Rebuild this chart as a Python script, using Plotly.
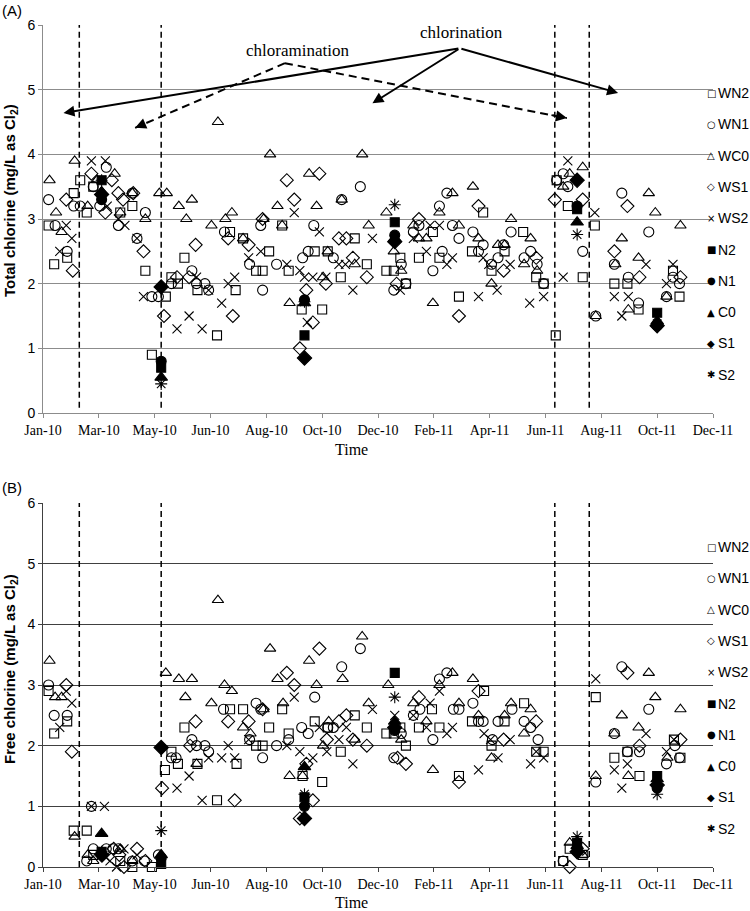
import pandas as pd
import plotly.graph_objects as go

# ============================================================
# Data: (day since 1 Jan 2010, chlorine mg/L as Cl2)
# ============================================================
START = pd.Timestamp("2010-01-01")

# ---- (A) total chlorine, weekly sites ----
total_wn2 = [(6, 2.9), (12, 2.3), (26, 2.4), (33, 3.4), (40, 3.6), (47, 3.1), (54, 3.5), (83, 3.1),
             (96, 3.2), (110, 2.2), (117, 0.9), (132, 1.8), (138, 2.1), (145, 2.0), (152, 2.4), (166, 1.9),
             (187, 1.2), (201, 2.8), (207, 1.9), (215, 2.7), (229, 2.2), (236, 2.2), (243, 2.5), (257, 2.9),
             (264, 2.2), (278, 1.6), (292, 2.5), (300, 1.6), (306, 2.5), (320, 2.1), (335, 2.7), (348, 2.3),
             (369, 2.2), (377, 2.2), (384, 2.4), (390, 2.0), (404, 2.4), (419, 2.8), (426, 2.4), (447, 1.8),
             (461, 2.5), (473, 3.1), (482, 2.2), (496, 2.5), (516, 2.8), (530, 2.1), (538, 2.0), (551, 1.2),
             (552, 3.6), (564, 3.2), (580, 2.1), (593, 2.9), (614, 2.0), (628, 2.0), (640, 1.6), (677, 2.2),
             (684, 1.8)]
total_wn1 = [(6, 3.3), (13, 2.9), (26, 2.5), (33, 3.2), (40, 3.2), (54, 3.5), (61, 3.2), (68, 3.8),
             (81, 2.9), (96, 3.4), (101, 2.7), (110, 3.1), (117, 1.8), (124, 1.8), (138, 2.0), (160, 2.2),
             (165, 2.0), (174, 2.0), (178, 1.9), (195, 2.8), (222, 2.3), (234, 2.9), (236, 1.9), (251, 2.3),
             (279, 2.4), (285, 2.5), (291, 2.9), (312, 2.4), (321, 3.3), (341, 3.5), (377, 1.9), (385, 2.3),
             (390, 2.0), (398, 2.8), (404, 2.9), (419, 2.2), (426, 3.2), (429, 2.5), (434, 3.4), (440, 2.9),
             (447, 2.7), (462, 2.8), (468, 2.5), (473, 2.6), (482, 2.3), (489, 2.4), (495, 2.6), (503, 2.8),
             (517, 2.4), (524, 2.5), (531, 2.3), (538, 2.0), (552, 3.6), (559, 3.7), (564, 3.5), (580, 2.5),
             (594, 1.5), (614, 2.3), (622, 3.4), (629, 2.1), (640, 1.7), (651, 2.8), (670, 1.8), (677, 2.1),
             (684, 2.0)]
total_wc0 = [(7, 3.6), (14, 3.1), (20, 2.8), (34, 3.9), (48, 3.2), (58, 3.6), (77, 3.7), (83, 3.1),
             (96, 3.4), (110, 3.0), (125, 3.4), (133, 3.4), (146, 3.2), (154, 3.0), (160, 3.3), (181, 2.9),
             (188, 4.5), (196, 3.0), (203, 3.1), (215, 2.7), (237, 3.0), (244, 4.0), (252, 3.2), (257, 2.9),
             (265, 1.7), (286, 3.7), (294, 3.2), (301, 2.1), (306, 2.5), (321, 3.3), (335, 2.3), (343, 4.0),
             (350, 2.9), (369, 3.1), (377, 2.5), (385, 2.2), (398, 2.9), (404, 2.7), (412, 2.7), (419, 1.7),
             (426, 3.1), (440, 3.4), (447, 2.9), (462, 3.5), (468, 2.7), (482, 2.0), (489, 2.6), (496, 2.6),
             (503, 3.0), (517, 2.3), (524, 2.7), (531, 2.2), (559, 3.5), (566, 3.7), (580, 3.8), (594, 1.5),
             (615, 2.3), (622, 2.7), (629, 1.6), (640, 2.4), (651, 3.4), (658, 3.1), (670, 1.8), (685, 2.9)]
total_ws1 = [(25, 3.3), (32, 2.2), (52, 3.7), (67, 3.1), (74, 3.6), (81, 3.4), (86, 3.3), (97, 3.4),
             (108, 2.5), (130, 1.5), (144, 2.1), (157, 2.1), (164, 2.6), (199, 2.7), (204, 1.5), (221, 2.6),
             (236, 3.0), (262, 3.6), (270, 3.3), (276, 1.0), (283, 1.9), (290, 1.4), (297, 3.7), (304, 2.0),
             (318, 2.7), (326, 2.7), (333, 2.4), (348, 2.1), (380, 2.0), (404, 3.0), (447, 1.5), (468, 3.2),
             (495, 2.2), (530, 2.4), (550, 3.3), (580, 3.3), (614, 2.5), (628, 3.2), (641, 2.1), (685, 2.1)]
total_ws2 = [(18, 2.5), (25, 2.9), (31, 2.7), (52, 3.9), (67, 3.9), (69, 3.2), (81, 3.0), (88, 2.9),
             (101, 2.7), (108, 1.8), (144, 1.3), (157, 1.5), (165, 2.1), (171, 1.3), (178, 1.9), (192, 1.7),
             (199, 2.0), (206, 2.1), (221, 2.4), (234, 2.5), (262, 2.3), (270, 3.1), (276, 2.2), (281, 2.1),
             (284, 1.4), (290, 2.1), (297, 2.8), (304, 2.1), (318, 2.3), (325, 2.3), (333, 1.9), (354, 2.7),
             (384, 1.9), (398, 2.7), (412, 2.5), (416, 2.9), (426, 2.9), (434, 2.3), (440, 2.4), (468, 1.8),
             (473, 2.4), (479, 2.3), (488, 1.9), (502, 2.3), (523, 1.7), (538, 1.8), (559, 2.1), (564, 3.9),
             (593, 3.1), (614, 1.8), (622, 1.5), (629, 1.8), (648, 2.3), (670, 2.0), (677, 2.3)]

# ---- (B) free chlorine, weekly sites ----
free_wn2 = [(6, 2.9), (12, 2.2), (26, 2.4), (33, 0.6), (47, 0.6), (54, 0.2), (83, 0.1), (96, 0.0),
            (117, 0.0), (131, 1.6), (138, 1.9), (145, 1.7), (152, 2.3), (166, 1.7), (187, 1.1), (201, 2.6),
            (208, 1.7), (215, 2.6), (229, 2.0), (236, 2.0), (243, 2.3), (257, 2.6), (264, 2.2), (279, 1.5),
            (292, 2.4), (300, 1.4), (306, 2.3), (320, 1.9), (335, 2.5), (348, 2.3), (369, 2.2), (377, 2.2),
            (384, 2.3), (390, 2.0), (404, 2.3), (418, 2.6), (426, 2.3), (447, 1.5), (461, 2.4), (474, 2.9),
            (482, 2.0), (496, 2.4), (517, 2.7), (530, 1.9), (538, 1.9), (559, 0.1), (566, 0.3), (580, 0.2),
            (594, 2.8), (614, 1.8), (628, 1.9), (641, 1.5), (678, 2.1), (685, 1.8)]
free_wn1 = [(6, 3.0), (12, 2.5), (26, 2.5), (47, 0.1), (52, 1.0), (54, 0.3), (68, 0.3), (75, 0.3),
            (81, 0.3), (96, 0.1), (109, 0.1), (124, 0.2), (138, 1.8), (143, 1.8), (160, 2.1), (165, 2.0),
            (174, 2.0), (178, 1.9), (194, 2.6), (222, 2.1), (229, 2.7), (234, 2.6), (236, 1.8), (251, 2.0),
            (264, 2.1), (278, 2.3), (285, 2.2), (292, 2.8), (306, 2.3), (312, 2.3), (321, 3.3), (341, 3.6),
            (377, 1.8), (385, 2.2), (398, 2.5), (405, 2.6), (419, 2.1), (426, 3.1), (434, 3.2), (441, 2.6),
            (447, 2.6), (462, 2.7), (468, 2.4), (473, 2.4), (483, 2.1), (489, 2.4), (504, 2.6), (517, 2.4),
            (524, 2.3), (532, 2.1), (559, 0.1), (594, 1.4), (614, 2.2), (622, 3.3), (628, 1.9), (641, 1.9),
            (651, 2.6), (670, 1.7), (679, 2.0), (684, 1.8)]
free_wc0 = [(7, 3.4), (13, 2.8), (20, 2.8), (34, 0.5), (48, 0.2), (54, 0.1), (83, 0.3), (96, 0.1),
            (132, 3.2), (146, 3.1), (153, 2.8), (160, 3.1), (165, 1.7), (181, 2.7), (188, 4.4), (195, 3.0),
            (203, 2.9), (215, 2.3), (223, 2.2), (237, 2.6), (244, 3.6), (252, 3.1), (258, 2.7), (265, 1.5),
            (279, 1.5), (286, 3.4), (294, 3.0), (301, 2.0), (307, 2.4), (322, 3.1), (335, 2.1), (343, 3.8),
            (350, 2.7), (371, 3.0), (385, 2.1), (398, 2.7), (412, 2.4), (419, 1.6), (426, 3.0), (440, 3.2),
            (447, 2.7), (462, 3.1), (468, 2.5), (482, 1.8), (496, 2.5), (503, 2.7), (517, 2.2), (524, 2.6),
            (566, 0.4), (580, 0.2), (594, 1.5), (614, 2.2), (622, 2.5), (629, 1.5), (640, 2.3), (651, 3.2),
            (658, 2.8), (671, 1.8), (685, 2.6)]
free_ws1 = [(25, 3.0), (31, 1.9), (76, 0.3), (82, 0.2), (87, 0.0), (101, 0.3), (110, 0.1), (128, 1.3),
            (158, 2.0), (164, 2.4), (199, 2.4), (206, 1.1), (221, 2.4), (236, 2.6), (262, 3.2), (270, 3.0),
            (276, 0.8), (283, 1.7), (290, 1.1), (297, 3.6), (305, 2.1), (318, 2.4), (326, 2.5), (333, 2.1),
            (348, 2.0), (381, 1.8), (390, 1.7), (404, 2.8), (447, 1.4), (468, 2.9), (495, 2.1), (530, 2.4),
            (566, 0.0), (580, 0.3), (628, 3.2), (641, 2.0), (685, 2.1)]
free_ws2 = [(18, 2.3), (25, 2.9), (31, 2.7), (52, 1.0), (66, 1.0), (68, 0.15), (72, 0.1), (79, 0.0),
            (87, 0.3), (101, 0.2), (144, 1.3), (157, 1.5), (171, 1.1), (178, 1.8), (192, 1.8), (199, 2.0),
            (206, 1.8), (221, 2.1), (262, 2.0), (270, 2.8), (276, 1.9), (290, 1.8), (297, 2.3), (305, 1.9),
            (318, 2.1), (326, 2.3), (333, 1.7), (354, 2.6), (378, 2.5), (398, 2.5), (412, 2.3), (416, 2.7),
            (426, 2.9), (434, 2.2), (440, 2.3), (468, 1.6), (474, 2.2), (481, 2.1), (489, 1.8), (502, 2.1),
            (524, 1.7), (530, 1.9), (538, 1.8), (594, 3.1), (614, 1.6), (622, 1.3), (628, 1.7), (648, 2.2),
            (670, 1.9), (678, 2.1)]

# ---- network sites, sampled at six campaigns ----
campaign_day = [63, 127, 281, 378, 574, 660]
total_n2 = [3.6, 0.7, 1.2, 2.95, 3.15, 1.55]
total_n1 = [3.3, 0.8, 1.75, 2.75, 3.2, 1.35]
total_c0 = [3.42, 0.55, 1.7, 2.7, 2.95, 1.42]
total_s1 = [3.38, 1.95, 0.85, 2.65, 3.6, 1.35]
total_s2 = [3.6, 0.45, 1.72, 3.22, 2.76, 1.38]
free_n2 = [0.25, 0.05, 1.15, 3.2, 0.4, 1.5]
free_n1 = [0.2, 0.15, 1.0, 2.25, 0.3, 1.3]
free_c0 = [0.55, 0.2, 1.65, 2.4, 0.35, 1.45]
free_s1 = [0.2, 1.97, 0.8, 2.3, 0.25, 1.35]
free_s2 = [0.25, 0.6, 1.2, 2.8, 0.5, 1.2]

# disinfectant switch dates (days)
switch_day = [39, 127, 550, 587]

# ============================================================
# Styles
# ============================================================
SERIES = ["WN2", "WN1", "WC0", "WS1", "WS2", "N2", "N1", "C0", "S1", "S2"]
SYMBOL = {"WN2": ("square-open", 9), "WN1": ("circle-open", 10), "WC0": ("triangle-up-open", 10),
          "WS1": ("diamond-open", 10), "WS2": ("x-thin-open", 9), "N2": ("square", 9),
          "N1": ("circle", 10), "C0": ("triangle-up", 11), "S1": ("diamond", 11),
          "S2": ("asterisk-open", 10)}
# key glyphs for the side legend
GLYPH = {"WN2": "□", "WN1": "○", "WC0": "△", "WS1": "◇", "WS2": "×",
         "N2": "■", "N1": "●", "C0": "▲", "S1": "◆", "S2": "✱"}

SERIF = "Liberation Serif"
SANS = "Liberation Sans"


def day_to_date(days):
    return START + pd.to_timedelta(list(days), unit="D")


panels = [
    {"xa": "x", "ya": "y", "key_top": 93, "time_y": 449, "title_y": 201,
     "title": "<b>Total chlorine (mg/L as Cl<sub>2</sub>)</b>",
     "data": {"WN2": total_wn2, "WN1": total_wn1, "WC0": total_wc0, "WS1": total_ws1, "WS2": total_ws2,
              "N2": total_n2, "N1": total_n1, "C0": total_c0, "S1": total_s1, "S2": total_s2}},
    {"xa": "x2", "ya": "y2", "key_top": 547, "time_y": 902, "title_y": 669,
     "title": "<b>Free chlorine (mg/L as Cl<sub>2</sub>)</b>",
     "data": {"WN2": free_wn2, "WN1": free_wn1, "WC0": free_wc0, "WS1": free_ws1, "WS2": free_ws2,
              "N2": free_n2, "N1": free_n1, "C0": free_c0, "S1": free_s1, "S2": free_s2}},
]

fig = go.Figure()

for p in panels:
    for name in SERIES:
        vals = p["data"][name]
        if name.startswith("W"):
            days = [d for d, _ in vals]
            ys = [v for _, v in vals]
        else:
            days, ys = campaign_day, vals
        sym, size = SYMBOL[name]
        fig.add_trace(go.Scatter(
            x=day_to_date(days), y=ys, mode="markers", name=name,
            legendgroup=name, showlegend=False,
            xaxis=p["xa"], yaxis=p["ya"], cliponaxis=False,
            marker=dict(symbol=sym, size=size, color="black",
                        line=dict(color="black", width=1.1)),
        ))

# ============================================================
# Layout (pixel frame: plots span x 43..713, A: y 25..413, B: y 503..867)
# ============================================================
W, H = 750, 911
ML, MR, MT, MB = 43, 37, 25, 44
PH = H - MT - MB

def py_to_paper(py):
    return (H - MB - py) / PH

def px_to_paper(px):
    return (px - ML) / (W - ML - MR)

tickdates = [START + pd.Timedelta(days=60 * k) for k in range(13)]
x_range = [START, START + pd.Timedelta(days=720)]

def xaxis_style(anchor, linecolor):
    return dict(type="date", range=x_range, tickvals=tickdates, tickformat="%b-%y",
                anchor=anchor, showgrid=False, zeroline=False,
                showline=True, linecolor=linecolor, linewidth=1,
                ticks="outside", ticklen=4, tickcolor=linecolor,
                tickfont=dict(family=SERIF, size=14, color="black"))

def yaxis_style(anchor, domain, gridcolor, linecolor):
    return dict(range=[0, 6], dtick=1, domain=domain, anchor=anchor,
                showgrid=True, gridcolor=gridcolor, gridwidth=1, zeroline=False,
                showline=True, linecolor=linecolor, linewidth=1,
                ticks="outside", ticklen=4, tickcolor=linecolor,
                tickfont=dict(family=SANS, size=14, color="black"))

fig.update_layout(
    width=W, height=H,
    margin=dict(l=ML, r=MR, t=MT, b=MB, autoexpand=False),
    paper_bgcolor="white", plot_bgcolor="white",
    xaxis=xaxis_style("y", "#8c8c8c"),
    yaxis=yaxis_style("x", [py_to_paper(413), 1.0], "#8c8c8c", "#8c8c8c"),
    xaxis2=xaxis_style("y2", "#404040"),
    yaxis2=yaxis_style("x2", [0.0, py_to_paper(503)], "#404040", "#404040"),
    showlegend=False,
)

for p in panels:
    # axis titles
    fig.add_annotation(xref="paper", yref="paper", x=px_to_paper(351), y=py_to_paper(p["time_y"]),
                       text="Time", showarrow=False, xanchor="center", yanchor="middle",
                       font=dict(family=SERIF, size=16, color="black"))
    fig.add_annotation(xref="paper", yref="paper", x=px_to_paper(10), y=py_to_paper(p["title_y"]),
                       text=p["title"], textangle=-90, showarrow=False,
                       xanchor="center", yanchor="middle",
                       font=dict(family=SANS, size=15, color="black"))
    # side key
    for i, name in enumerate(SERIES):
        yk = py_to_paper(p["key_top"] + 31.3 * i)
        fig.add_annotation(xref="paper", yref="paper", x=px_to_paper(711), y=yk,
                           xanchor="center", yanchor="middle", showarrow=False, borderpad=0,
                           text=GLYPH[name], font=dict(family="DejaVu Sans", size=10, color="black"))
        fig.add_annotation(xref="paper", yref="paper", x=px_to_paper(717), y=yk,
                           xanchor="left", yanchor="middle", showarrow=False, borderpad=0,
                           text=name, font=dict(family=SANS, size=14, color="black"))

# ============================================================
# Switch lines, arrows, labels
# ============================================================
for xa, ya, y0 in [("x", "y", 0.08), ("x2", "y2", 0.0)]:
    for d in switch_day:
        xd = START + pd.Timedelta(days=d)
        fig.add_shape(type="line", xref=xa, yref=ya, x0=xd, x1=xd, y0=y0, y1=6,
                      line=dict(color="black", width=1.5, dash="6px,4px"))

def at(day):
    return START + pd.Timedelta(days=day)

# chlorination: solid arrows from one apex
apex = (448, 5.64)
for head in [(22, 4.64), (354, 4.79), (618, 4.95)]:
    fig.add_annotation(xref="x", yref="y", axref="x", ayref="y",
                       x=at(head[0]), y=head[1], ax=at(apex[0]), ay=apex[1],
                       text="", showarrow=True, arrowhead=2, arrowsize=1.1,
                       arrowwidth=2, arrowcolor="black")

# chloramination: dashed arrows
apex2 = (260, 5.41)
for head in [(99, 4.41), (563, 4.56)]:
    fig.add_shape(type="line", xref="x", yref="y",
                  x0=at(apex2[0]), y0=apex2[1], x1=at(head[0]), y1=head[1],
                  line=dict(color="black", width=2, dash="8px,5px"))
    tail = (head[0] + 0.06 * (apex2[0] - head[0]), head[1] + 0.06 * (apex2[1] - head[1]))
    fig.add_annotation(xref="x", yref="y", axref="x", ayref="y",
                       x=at(head[0]), y=head[1], ax=at(tail[0]), ay=tail[1],
                       text="", showarrow=True, arrowhead=2, arrowsize=1.1,
                       arrowwidth=2, arrowcolor="black")

fig.add_annotation(xref="x", yref="y", x=at(274), y=5.61, text="chloramination",
                   showarrow=False, font=dict(family=SERIF, size=17, color="black"))
fig.add_annotation(xref="x", yref="y", x=at(450), y=5.88, text="chlorination",
                   showarrow=False, font=dict(family=SERIF, size=17, color="black"))

fig.add_annotation(xref="paper", yref="paper", x=px_to_paper(0), y=py_to_paper(10), text="(A)",
                   showarrow=False, xanchor="left", yanchor="middle",
                   font=dict(family=SANS, size=15, color="black"))
fig.add_annotation(xref="paper", yref="paper", x=px_to_paper(0), y=py_to_paper(488), text="(B)",
                   showarrow=False, xanchor="left", yanchor="middle",
                   font=dict(family=SANS, size=15, color="black"))

# the page's default 8px body margin would push the 750x911 figure off the window
fig.write_html("out.html", config={"displayModeBar": False},
               post_script="document.body.style.margin = '0px';")
